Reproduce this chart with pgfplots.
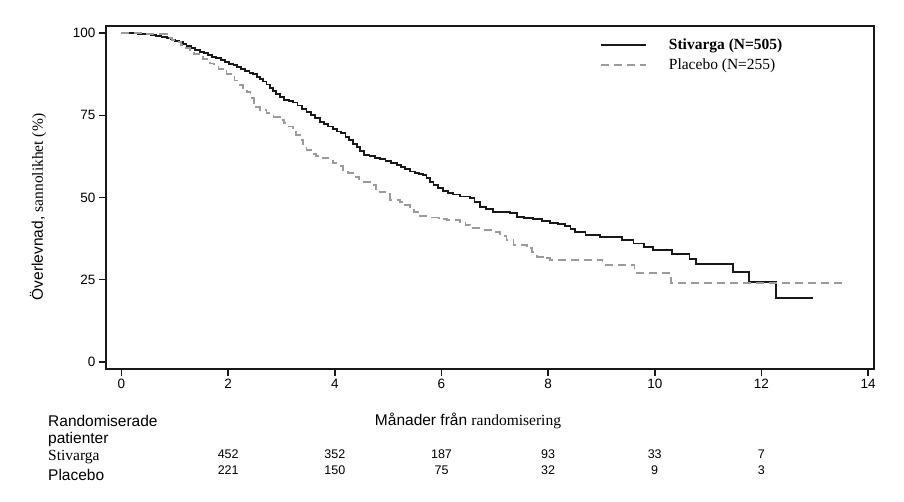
\documentclass[border=0pt]{standalone}
\usepackage{fontspec}
\setmainfont{Liberation Sans}
\newfontfamily\serif{Liberation Serif}
\usepackage{pgfplots}
\pgfplotsset{compat=1.18}
\definecolor{pbo}{RGB}{155,155,155}
\definecolor{stv}{RGB}{25,25,25}

\begin{document}
\begin{tikzpicture}
\path[use as bounding box] (-106pt,-132pt) rectangle (798pt,369pt);
\begin{axis}[
    at={(0pt,0pt)}, anchor=south west,
    scale only axis, width=768pt, height=343pt,
    xmin=-0.29, xmax=14.11, ymin=-2.2, ymax=102.2,
    xtick={0,2,...,14}, ytick={0,25,50,75,100},
    tick pos=left, tick align=outside,
    major tick length=7pt,
    tick style={line width=1.6pt, stv},
    axis line style={line width=1.7pt, stv},
    tick label style={font=\fontsize{13.5}{14}\selectfont},
    /pgf/number format/assume math mode=true,
    clip=false,
    legend cell align=left,
    legend image code/.code={\draw[#1] (0pt,0pt) -- (45pt,0pt);},
    legend style={draw=none, fill=none, at={(0.643,0.968)}, anchor=north west,
        inner sep=0pt, row sep=3pt,
        font=\serif\fontsize{15.5}{16}\selectfont,
        /tikz/every odd column/.append style={column sep=20pt}},
]
% Stivarga (N=505)
\addplot[const plot, stv, line width=1.9pt] coordinates {
(0,100) (0.30,99.8) (0.45,99.6) (0.55,99.4) (0.65,99.2) (0.75,98.9) (0.85,98.5)
(0.93,98.1) (1.00,97.7) (1.08,97.2) (1.16,96.6) (1.22,96.1) (1.30,95.5) (1.38,95.0)
(1.47,94.4) (1.55,93.9) (1.62,93.4) (1.70,92.9) (1.78,92.4) (1.86,91.8) (1.94,91.2)
(2.02,90.7) (2.10,90.2) (2.16,89.8) (2.24,89.2) (2.32,88.6) (2.40,88.0) (2.47,87.5)
(2.54,86.8) (2.60,86.0) (2.66,85.3) (2.72,84.4) (2.78,83.4) (2.84,82.4) (2.90,81.5)
(2.97,80.7) (3.05,79.8) (3.14,79.3) (3.22,78.9) (3.30,78.0) (3.38,77.0) (3.47,76.1)
(3.55,75.1) (3.63,74.1) (3.72,73.1) (3.80,72.4) (3.88,71.6) (3.96,70.8) (4.04,70.1)
(4.12,69.5) (4.20,68.5) (4.27,67.4) (4.34,66.4) (4.41,65.5) (4.48,64.2) (4.55,63.0)
(4.65,62.5) (4.75,62.1) (4.85,61.7) (4.95,61.1) (5.05,60.5) (5.16,60.0) (5.24,59.3)
(5.32,58.6) (5.41,57.9) (5.50,57.5) (5.58,57.1) (5.66,56.8) (5.72,55.8) (5.79,54.8)
(5.85,53.8) (5.94,53.0) (6.03,52.1) (6.12,51.5) (6.22,50.9) (6.35,50.3) (6.54,49.8)
(6.62,48.5) (6.72,47.2) (6.84,46.4) (6.97,45.7) (7.29,45.2) (7.41,44.0) (7.55,43.7)
(7.72,43.4) (7.88,42.8) (8.04,42.3) (8.18,41.8) (8.32,41.3) (8.42,40.4) (8.51,39.6)
(8.70,38.6) (8.97,37.9) (9.38,37.1) (9.60,36.0) (9.79,35.0) (9.96,34.0) (10.33,32.7)
(10.65,31.2) (10.77,29.7) (11.47,27.4) (11.77,24.3) (12.27,19.5) (12.97,19.5)
};
\addlegendentry{\textbf{Stivarga (N=505)}}
% Placebo (N=255)
\addplot[const plot, pbo, line width=1.9pt, dash pattern=on 8pt off 5pt] coordinates {
(0,100) (0.40,99.7) (0.85,98.5) (0.95,98.0) (1.05,97.3) (1.12,96.5) (1.20,95.5)
(1.28,94.4) (1.36,93.6) (1.45,92.8) (1.53,92.2) (1.60,91.4) (1.66,90.8) (1.74,90.0)
(1.82,89.1) (1.90,88.4) (1.97,87.7) (2.05,86.7) (2.12,85.6) (2.22,84.3) (2.28,83.0)
(2.35,82.0) (2.42,80.2) (2.48,78.8) (2.53,77.6) (2.60,76.5) (2.72,75.6) (2.85,74.6)
(2.97,73.6) (3.05,72.6) (3.14,71.6) (3.22,70.6) (3.28,69.1) (3.35,67.5) (3.41,65.5)
(3.47,64.5) (3.55,63.3) (3.65,62.7) (3.75,62.0) (3.88,61.2) (3.97,60.4) (4.06,59.6)
(4.15,58.5) (4.25,57.4) (4.35,56.3) (4.45,55.5) (4.55,54.6) (4.66,53.8) (4.78,52.6)
(4.85,51.8) (4.95,51.0) (5.03,49.2) (5.22,48.7) (5.32,47.6) (5.41,46.7) (5.48,45.5)
(5.56,44.3) (5.75,43.9) (5.95,43.5) (6.10,43.1) (6.35,42.6) (6.45,41.5) (6.54,40.6)
(6.75,40.1) (6.97,39.6) (7.10,38.3) (7.22,37.1) (7.35,35.5) (7.60,34.5) (7.70,33.3)
(7.79,32.0) (7.90,31.5) (8.04,31.0) (9.02,29.4) (9.62,27.0) (10.30,24.1) (13.53,24.1)
};
\addlegendentry{Placebo (N=255)}
\end{axis}
% y label
\node[rotate=90, anchor=center] at (-68pt,162pt)
  {\fontsize{15.5}{16}\selectfont Överlevnad, {\serif sannolikhet (\%)}};
% number-at-risk table
\begin{scope}[every node/.style={inner sep=0pt}]
\node[anchor=west] at (-58pt,-52pt) {\fontsize{15.5}{16}\selectfont Randomiserade};
\node[anchor=west] at (-58pt,-70pt) {\fontsize{15.5}{16}\selectfont patienter};
\node[anchor=west] at (-58pt,-88pt) {\serif\fontsize{15.5}{16}\selectfont Stivarga};
\node[anchor=west] at (-58pt,-106pt) {\fontsize{15.5}{16}\selectfont Placebo};
\node[anchor=center] at (362pt,-52pt) {\fontsize{15.5}{16}\selectfont Månader från {\serif randomisering}};
\foreach \x/\a/\b in {122.2/452/221, 228.8/352/150, 335.5/187/75, 442.1/93/32, 548.7/33/9, 655.3/7/3} {
  \node[anchor=center] at (\x pt,-85pt) {\fontsize{12.5}{13}\selectfont \a};
  \node[anchor=center] at (\x pt,-101pt) {\fontsize{12.5}{13}\selectfont \b};
}
\end{scope}
\end{tikzpicture}
\end{document}
